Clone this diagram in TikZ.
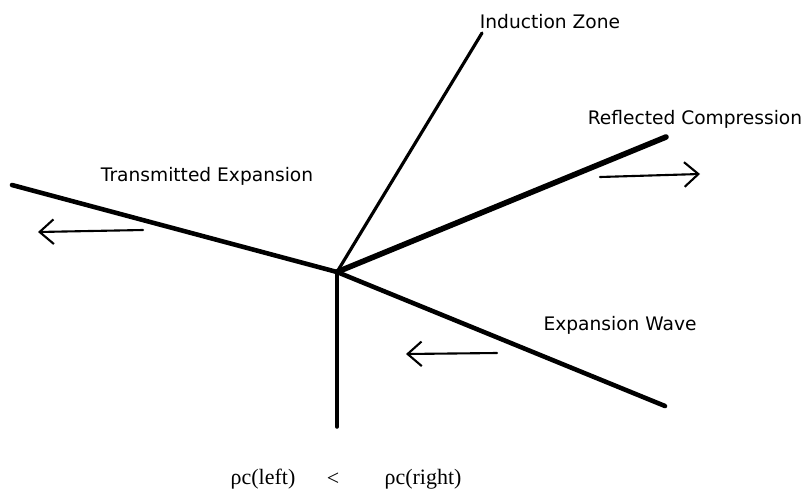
\documentclass[tikz,border=0pt]{standalone}
\usepackage{fontspec}
\usepackage{tikz}
\usetikzlibrary{calc, arrows.meta}
\usepackage{tkz-euclide}
\newfontfamily\wavefont{DejaVu Sans}
\newfontfamily\ratiofont{Liberation Serif}

\begin{document}
\begin{tikzpicture}[
    front/.style={line width=2.6pt, line cap=round},
    motion/.style={line width=1.2pt, -{Straight Barb[length=8pt,width=14pt,line width=1.2pt]}},
    lbl/.style={font=\wavefont\fontsize{10.6}{12}\selectfont, inner sep=0pt},
    ratio/.style={font=\ratiofont\fontsize{12.5}{14}\selectfont, inner sep=0pt}]
            \useasboundingbox (0,0) rectangle (16.14,9.8);
            \tkzDefPoints{6.74/4.36/K, 0.24/6.10/T, 6.74/1.26/V, 13.30/1.68/W, 9.64/9.14/I, 13.32/7.06/R}
            \tkzDefPoints{2.86/5.20/Ts, 0.76/5.16/Tt, 9.94/2.74/Ws, 8.12/2.72/Wt, 12.00/6.26/Rs, 14.00/6.32/Rt}
            % wave fronts
            \tkzDrawSegments[front](K,T K,W)
            \tkzDrawSegment[front, line width=3.2pt](K,R)
            \tkzDrawSegment[front, line width=1.8pt](K,I)
            \tkzDrawSegment[front, line width=2pt](K,V)
            % directions of travel
            \tkzDrawSegments[motion](Ts,Tt Ws,Wt Rs,Rt)
            % labels
            \node[lbl] (indz) at (11.0,9.36) {Induction Zone};
            \node[lbl] (refl) at (13.90,7.42) {Reflected Compression};
            \node[lbl] (trans) at (4.14,6.28) {Transmitted Expansion};
            \node[lbl] (expw) at (12.40,3.30) {Expansion Wave};
            \node[ratio] (left) at (5.26,0.22) {ρc(left)};
            \node[ratio] (less) at (6.66,0.22) {<};
            \node[ratio] (right) at (8.46,0.22) {ρc(right)};
        \end{tikzpicture}
\end{document}
